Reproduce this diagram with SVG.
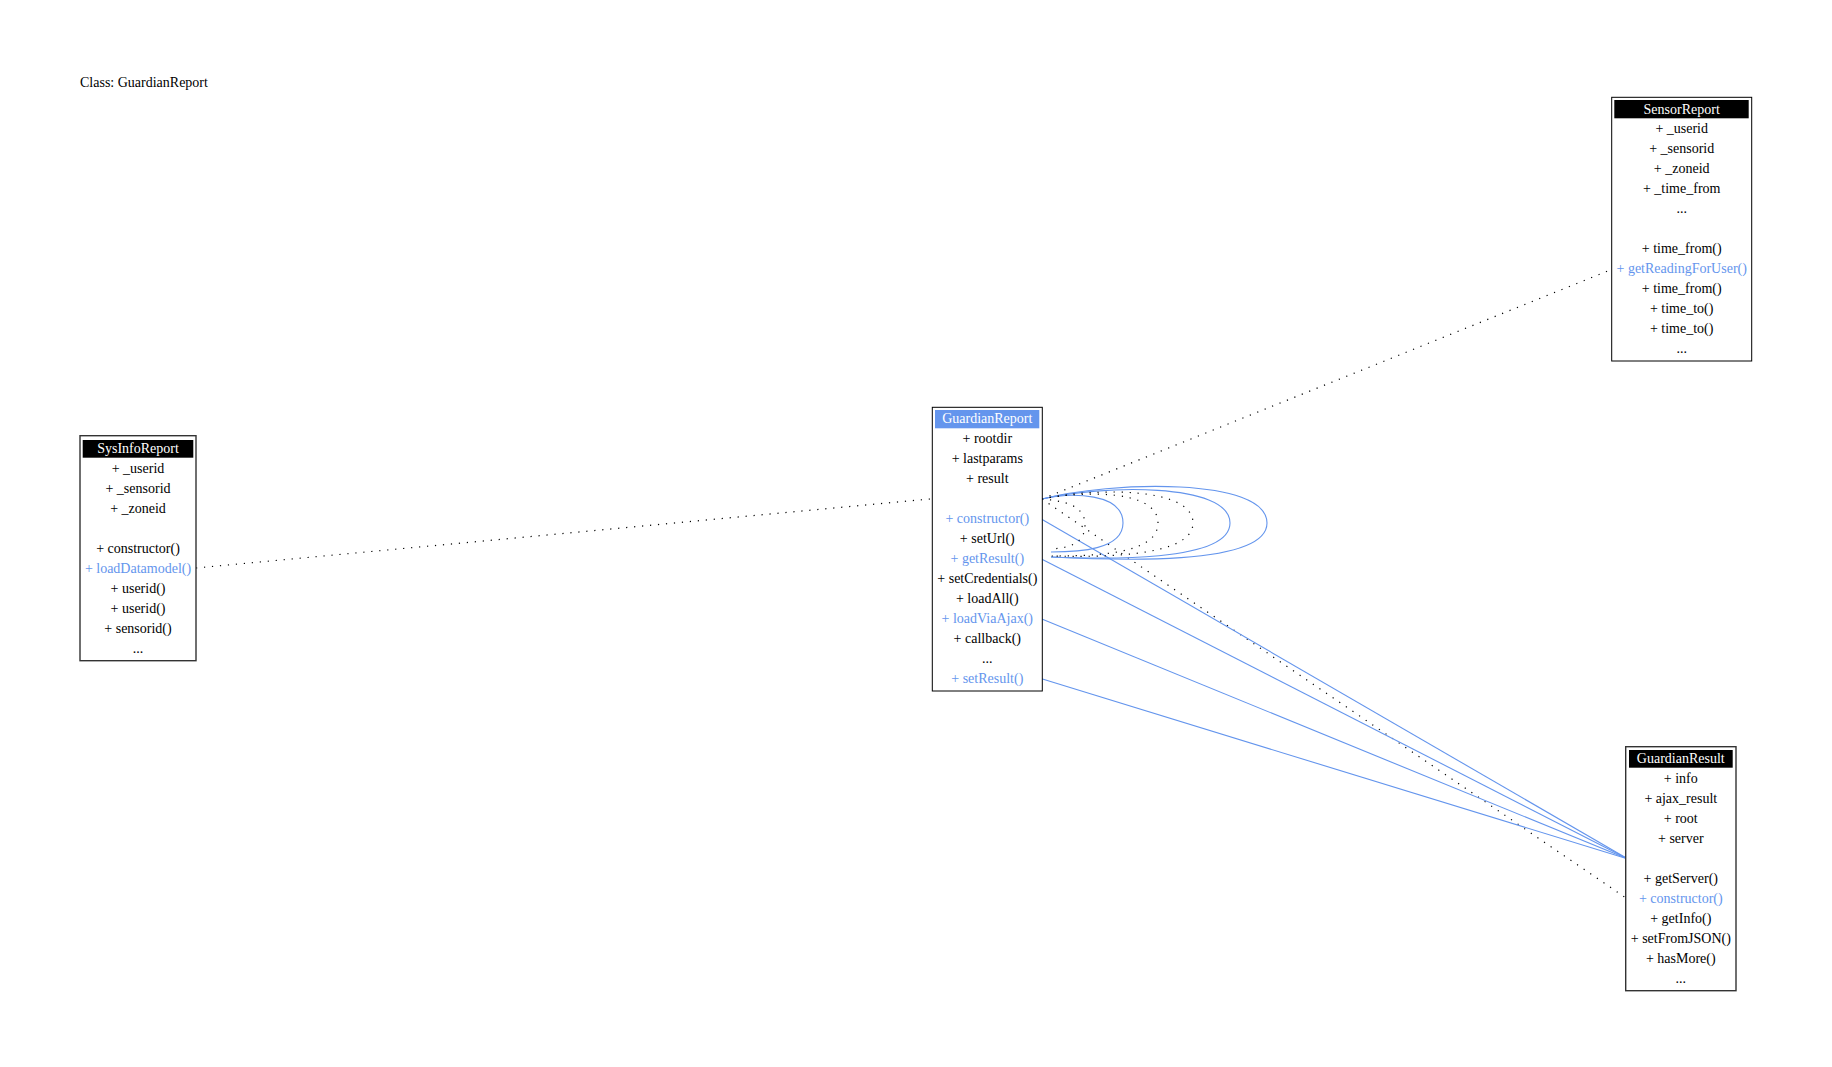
<svg xmlns="http://www.w3.org/2000/svg" width="1832" height="1067" viewBox="0 0 1832 1067">
<style>
text{font-family:"Liberation Serif","Times New Roman",serif;font-size:14px;fill:#000}
.m{text-anchor:middle}
.b{fill:#6495ed}
.h{fill:#fff}
.box{fill:#fff;stroke:#000;stroke-width:1}
.g{stroke:#333;stroke-width:1.4}
.dot{fill:none;stroke:#000;stroke-width:1.2;stroke-dasharray:1.2,6.8}
.blu{fill:none;stroke:#6495ed;stroke-width:1.1}
</style>
<rect width="1832" height="1067" fill="#fff"/>
<text x="80" y="87">Class: GuardianReport</text>

<g id="connectors">
<path class="dot" d="M196,568 L935,498.5"/>
<path class="dot" d="M1042,499 L1614,268.5"/>
<path class="dot" d="M1042,499 L1626,898"/>
<path class="blu" d="M1040,518.3 L1628,859"/>
<path class="blu" d="M1040,558.3 L1628,859"/>
<path class="blu" d="M1040,618.3 L1628,859"/>
<path class="blu" d="M1040,678.3 L1628,859"/>
<path class="blu" d="M1042,499 C1072,492 1123,493 1123,523 C1123,550 1078,552 1051,552"/>
<path class="blu" d="M1042,499 C1100,485 1230,482 1230,523 C1230,563 1100,559 1051,557"/>
<path class="blu" d="M1042,499 C1110,481 1267,477 1267,523 C1267,567 1110,560 1051,557"/>
<path class="dot" d="M1042,499 C1062,501 1085,504 1085,525 C1085,545 1066,548 1051,549"/>
<path class="dot" d="M1042,499 C1082,491 1158,489 1158,523 C1158,555 1092,556 1051,556"/>
<path class="dot" d="M1042,499 C1092,488 1193,486 1193,523 C1193,558 1096,557 1051,556"/>
</g>

<g id="SensorReport">
<rect class="box" x="1611.7" y="97.3" width="140" height="263.7"/>
<rect x="1614.3" y="100" width="134.4" height="18.3" fill="#000"/>
<text class="m h" x="1681.7" y="114">SensorReport</text>
<text class="m" x="1681.7" y="133.3">+ _userid</text>
<text class="m" x="1681.7" y="153.3">+ _sensorid</text>
<text class="m" x="1681.7" y="173.3">+ _zoneid</text>
<text class="m" x="1681.7" y="193.3">+ _time_from</text>
<text class="m" x="1681.7" y="213.3">...</text>
<text class="m" x="1681.7" y="253.3">+ time_from()</text>
<text class="m b" x="1681.7" y="273.3">+ getReadingForUser()</text>
<text class="m" x="1681.7" y="293.3">+ time_from()</text>
<text class="m" x="1681.7" y="313.3">+ time_to()</text>
<text class="m" x="1681.7" y="333.3">+ time_to()</text>
<text class="m" x="1681.7" y="353.3">...</text>
</g>

<g id="SysInfoReport">
<rect class="box g" x="80" y="435.7" width="116" height="225"/>
<rect x="82.7" y="440" width="110.6" height="17.7" fill="#000"/>
<text class="m h" x="138" y="453">SysInfoReport</text>
<text class="m" x="138" y="472.7">+ _userid</text>
<text class="m" x="138" y="492.7">+ _sensorid</text>
<text class="m" x="138" y="512.7">+ _zoneid</text>
<text class="m" x="138" y="552.7">+ constructor()</text>
<text class="m b" x="138" y="572.7">+ loadDatamodel()</text>
<text class="m" x="138" y="592.7">+ userid()</text>
<text class="m" x="138" y="612.7">+ userid()</text>
<text class="m" x="138" y="632.7">+ sensorid()</text>
<text class="m" x="138" y="652.7">...</text>
</g>

<g id="GuardianReport">
<rect class="box" x="932.3" y="407.3" width="110" height="283.7"/>
<rect x="935" y="410" width="104.3" height="18.3" fill="#6495ed"/>
<text class="m h" x="987.3" y="423">GuardianReport</text>
<text class="m" x="987.3" y="443.3">+ rootdir</text>
<text class="m" x="987.3" y="463.3">+ lastparams</text>
<text class="m" x="987.3" y="483.3">+ result</text>
<text class="m b" x="987.3" y="523.3">+ constructor()</text>
<text class="m" x="987.3" y="543.3">+ setUrl()</text>
<text class="m b" x="987.3" y="563.3">+ getResult()</text>
<text class="m" x="987.3" y="583.3">+ setCredentials()</text>
<text class="m" x="987.3" y="603.3">+ loadAll()</text>
<text class="m b" x="987.3" y="623.3">+ loadViaAjax()</text>
<text class="m" x="987.3" y="643.3">+ callback()</text>
<text class="m" x="987.3" y="663.3">...</text>
<text class="m b" x="987.3" y="683.3">+ setResult()</text>
</g>

<g id="GuardianResult">
<rect class="box g" x="1625.7" y="746.7" width="110.3" height="244"/>
<rect x="1629" y="750" width="103.7" height="17.7" fill="#000"/>
<text class="m h" x="1680.8" y="763">GuardianResult</text>
<text class="m" x="1680.8" y="782.7">+ info</text>
<text class="m" x="1680.8" y="802.7">+ ajax_result</text>
<text class="m" x="1680.8" y="822.7">+ root</text>
<text class="m" x="1680.8" y="842.7">+ server</text>
<text class="m" x="1680.8" y="882.7">+ getServer()</text>
<text class="m b" x="1680.8" y="902.7">+ constructor()</text>
<text class="m" x="1680.8" y="922.7">+ getInfo()</text>
<text class="m" x="1680.8" y="942.7">+ setFromJSON()</text>
<text class="m" x="1680.8" y="962.7">+ hasMore()</text>
<text class="m" x="1680.8" y="982.7">...</text>
</g>
</svg>
